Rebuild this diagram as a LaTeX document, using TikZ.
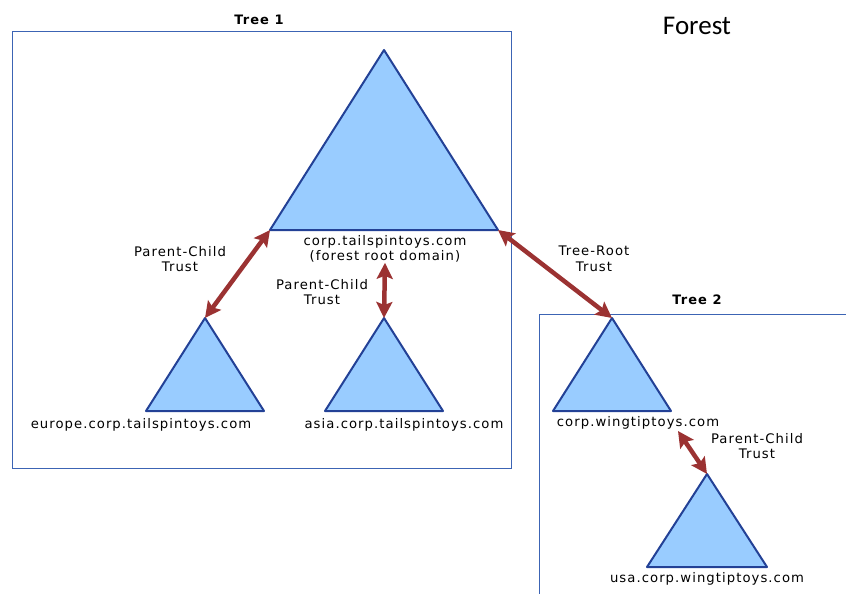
\documentclass[tikz,border=0pt]{standalone}
\usepackage{fontspec}
\setmainfont{DejaVu Sans}[LetterSpace=8]
\newfontfamily\titlefont{Carlito}
\usetikzlibrary{arrows.meta}
\definecolor{forestblue}{RGB}{35,65,150}
\definecolor{forestfill}{RGB}{153,204,255}
\definecolor{forestframe}{RGB}{60,100,180}
\definecolor{trustred}{RGB}{155,50,50}

\begin{document}
\begin{tikzpicture}[
    x=1pt, y=-1pt,
    every node/.style={font=\fontsize{13.2}{15.5}\selectfont, align=center, inner sep=0pt},
    domaintri/.style={draw=forestblue, fill=forestfill, line width=2pt, line join=round},
    frame/.style={draw=forestframe, line width=1pt},
    heading/.style={font=\bfseries\fontsize{13}{15}\selectfont},
    trust/.style={{Stealth[length=16pt,width=16pt,inset=3pt]}-{Stealth[length=16pt,width=16pt,inset=3pt]}, draw=trustred, line width=4.5pt}
]
\useasboundingbox (0,0) rectangle (846,594);

% tree boxes
\draw[frame] (12,32) rectangle (511,468);
\draw[frame] (846,314) -- (539,314) -- (539,594);
\node[heading] (tree1) at (259,20) {Tree 1};
\node[heading] (tree2) at (697,300) {Tree 2};
\node[font=\titlefont\fontsize{27}{30}\selectfont] (forest) at (697,26) {Forest};

% domains
\coordinate (roottop) at (384,50);
\coordinate (rootleft) at (270,230);
\coordinate (rootright) at (498,230);
\draw[domaintri] (roottop) -- (rootright) -- (rootleft) -- cycle;

\coordinate (europetop) at (205,318);
\draw[domaintri] (europetop) -- (264,411) -- (146,411) -- cycle;

\coordinate (asiatop) at (384,318);
\draw[domaintri] (asiatop) -- (443,411) -- (325,411) -- cycle;

\coordinate (wingtop) at (612,318);
\draw[domaintri] (wingtop) -- (671,411) -- (553,411) -- cycle;

\coordinate (usatop) at (707,474);
\draw[domaintri] (usatop) -- (767,567) -- (647,567) -- cycle;

% domain names
\node (rootname) at (385,249) {corp.tailspintoys.com\\(forest root domain)};
\node (europename) at (141,425) {europe.corp.tailspintoys.com};
\node (asianame) at (404,425) {asia.corp.tailspintoys.com};
\node (wingname) at (638,423) {corp.wingtiptoys.com};
\node (usaname) at (707,579) {usa.corp.wingtiptoys.com};

% trusts
\coordinate (wingfoot) at (678,431);
\draw[trust] (rootleft) -- (europetop);
\draw[trust] (rootname.south) -- (asiatop);
\draw[trust] (rootright) -- (wingtop);
\draw[trust] (wingfoot) -- (usatop);

\node (trust1) at (180,259) {Parent-Child\\Trust};
\node (trust2) at (322,292) {Parent-Child\\Trust};
\node (trust3) at (594,259) {Tree-Root\\Trust};
\node (trust4) at (757,446) {Parent-Child\\Trust};

\end{tikzpicture}
\end{document}
